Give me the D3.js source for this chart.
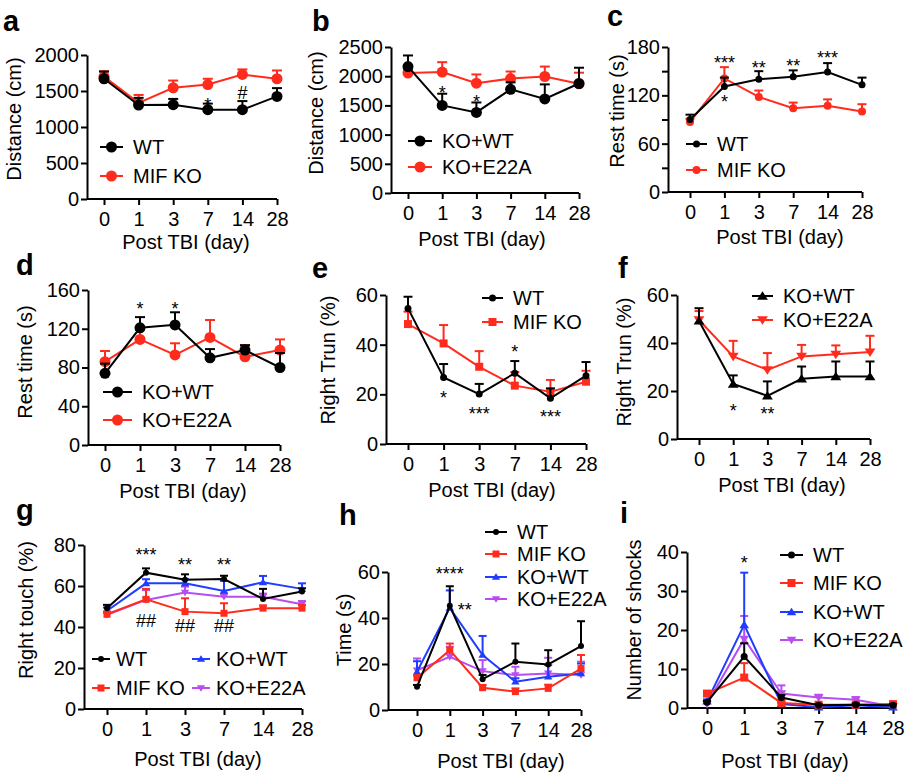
<!DOCTYPE html>
<html>
<head>
<meta charset="utf-8">
<script src="https://cdn.jsdelivr.net/npm/d3@7"></script>
<style>
  body { margin: 0; background: #fff; }
  svg { display: block; font-family: "Liberation Sans", Arial, sans-serif; }
</style>
</head>
<body>
<svg width="915" height="778"></svg>
<script>
// дни после травмы (общая ось ОХ для всех панелей)
const days = ["0", "1", "3", "7", "14", "28"];

// a - Distance
const aWT = [1670, 1305, 1310, 1240, 1240, 1425];
const aWTerr = [100, 100, 80, 85, 120, 115];
const aKO = [1700, 1335, 1545, 1590, 1730, 1670];
const aKOerr = [75, 110, 100, 80, 70, 115];
const aTicks = [0, 500, 1000, 1500, 2000];

// b - Distance
const bWT = [2165, 1500, 1380, 1775, 1610, 1875];
const bWTerr = [190, 200, 170, 120, 250, 270];
const bE22A = [2055, 2070, 1880, 1960, 1995, 1870];
const bE22Aerr = [60, 170, 150, 120, 170, 190];
const bTicks = [0, 500, 1000, 1500, 2000, 2500];

// c - Rest time
const cWT = [90, 131, 140, 143, 149, 133];
const cWTerr = [6, 11, 10, 8, 11, 9];
const cKO = [87, 141, 118, 104, 107, 100];
const cKOerr = [4, 14, 8, 7, 8, 9];
const cTicks = [0, 30, 60, 90, 120, 150, 180];

// d - Rest time
const dWT = [74, 121, 124, 90, 98, 80];
const dWTerr = [10, 11, 13, 9, 5, 15];
const dE22A = [86, 109, 93, 111, 91, 98];
const dE22Aerr = [11, 10, 12, 18, 12, 11];
const dTicks = [0, 40, 80, 120, 160];

// e - Right Trun
const eWT = [54.6, 26.8, 20.1, 28.5, 18.4, 27.5];
const eWTerr = [4.7, 5.4, 4.1, 4.9, 4, 5.5];
const eKO = [48.3, 40.5, 31.1, 23.5, 21, 25.1];
const eKOerr = [5, 7.4, 6.3, 5.5, 4.8, 4.4];
const eTicks = [0, 20, 40, 60];

// f - Right Trun
const fWT = [49.2, 22.9, 18, 25.1, 26, 26];
const fWTerr = [5.3, 3.6, 6, 5.1, 6.3, 6.3];
const fE22A = [49.6, 34.4, 28.8, 34.4, 35.3, 36.2];
const fE22Aerr = [3.7, 6.5, 7, 4.8, 3.7, 6.8];
const fTicks = [0, 20, 40, 60];

// g - Right touch
const gWT = [49.2, 66.5, 63, 63.4, 53.7, 57.3];
const gWTerr = [1.6, 2.1, 2.7, 1.6, 4.9, 1.6];
const gKO = [46.2, 53.5, 47.5, 46.7, 49.2, 49.2];
const gKOerr = [1.3, 5.1, 6.5, 4.9, 1.3, 1.5];
const gKW = [47.9, 61.3, 61.3, 57.6, 61.8, 58.6];
const gKWerr = [1.6, 2, 2, 4.9, 3.1, 2.7];
const gE22A = [45.9, 53.2, 56.8, 54.8, 54.8, 51.1];
const gE22Aerr = [1.5, 4.8, 2.9, 1.5, 1.5, 1.6];
const gTicks = [0, 20, 40, 60, 80];

// h - Time
const hWT = [10.1, 45.3, 13.4, 21, 19.8, 27.8];
const hWTerr = [0.8, 8.5, 1.8, 7.9, 6.2, 10.8];
const hKO = [14, 26, 9.7, 8, 9.4, 18];
const hKOerr = [1, 2.9, 1.2, 1.4, 1.6, 5.9];
const hKW = [16.6, 44.4, 23.9, 12.3, 14.5, 15.9];
const hKWerr = [4.6, 7.6, 8.3, 1.5, 5, 4.3];
const hE22A = [17.3, 23.1, 16.9, 15.2, 15.9, 15.2];
const hE22Aerr = [5.1, 4.4, 4.8, 3.6, 6.8, 5.8];
const hTicks = [0, 20, 40, 60];

// i - Number of shocks
const iWT = [1.5, 13.2, 2.7, 0.7, 0.85, 0.7];
const iWTerr = [0.3, 3.4, 0.6, 0.3, 0.3, 0.3];
const iKO = [3.7, 7.8, 1.3, 0.85, 0.85, 1];
const iKOerr = [0.6, 3.7, 0.3, 0.3, 0.3, 0.3];
const iKW = [1.7, 21.3, 1, 0.2, 0.7, 0.2];
const iKWerr = [0.5, 13.4, 0.3, 0.2, 0.3, 0.2];
const iE22A = [1, 17.7, 3.7, 2.7, 2.1, 0.4];
const iE22Aerr = [0.4, 5.9, 2.1, 0.7, 0.7, 0.3];
const iTicks = [0, 10, 20, 30, 40];

// значимость (день, значение по ОY в центре знака, текст)
const aMarks = [["7", 1384, "*"], ["14", 1477, "#"]];
const bMarks = [["1", 1807, "*"], ["3", 1648, "*"]];
const cMarks = [["1", 167, "***"], ["3", 160.6, "**"], ["7", 162.7, "**"], ["14", 173, "***"], ["1", 118.2, "*"]];
const dMarks = [["1", 146, "*"], ["3", 146, "*"]];
const eMarks = [["1", 20.7, "*"], ["3", 14.1, "***"], ["7", 39.2, "*"], ["14", 13, "***"]];
const fMarks = [["1", 14, "*"], ["3", 12.5, "**"]];
const gMarks = [["1", 77.6, "***"], ["3", 73, "**"], ["7", 73, "**"], ["1", 43, "##"], ["3", 40.6, "##"], ["7", 40.6, "##"]];
const hMarks = [["1", 61.4, "****"], ["1", 45.8, "**", 15]];
const iMarks = [["1", 38.5, "*"]];

const BLACK = "#000000";
const RED = "#ff2b1c";
const BLUE = "#1f3cff";
const PURPLE = "#b84df0";

const panels = [
  { letter: "a", lx: 3, ly: 31, left: 87, top: 55, bottom: 199, x0: 104, x1: 277,
    ticks: aTicks, title: "Distance (cm)", tx: 14, ty: 119, xtx: 186, xty: 249, cap: 10,
    series: [
      { name: "WT", v: aWT, e: aWTerr, c: BLACK, shape: "circle", s: 5.5 },
      { name: "MIF KO", v: aKO, e: aKOerr, c: RED, shape: "circle", s: 5.5 }],
    legend: { x: 100, len: 23, ys: [147, 176] }, marks: aMarks },
  { letter: "b", lx: 312, ly: 31, left: 391, top: 47, bottom: 193, x0: 408, x1: 579,
    ticks: bTicks, title: "Distance (cm)", tx: 316, ty: 113, xtx: 482, xty: 246, cap: 10,
    series: [
      { name: "KO+WT", v: bWT, e: bWTerr, c: BLACK, shape: "circle", s: 5.5 },
      { name: "KO+E22A", v: bE22A, e: bE22Aerr, c: RED, shape: "circle", s: 5.5 }],
    legend: { x: 408, len: 24, ys: [141, 167] }, marks: bMarks },
  { letter: "c", lx: 607, ly: 26, left: 668, top: 47, bottom: 192, x0: 690, x1: 862,
    ticks: cTicks, labelStep: 60, title: "Rest time (s)", tx: 617, ty: 111, xtx: 780, xty: 244, cap: 9,
    series: [
      { name: "WT", v: cWT, e: cWTerr, c: BLACK, shape: "circle", s: 3.5 },
      { name: "MIF KO", v: cKO, e: cKOerr, c: RED, shape: "circle", s: 4 }],
    legend: { x: 686, len: 21, ys: [144, 170] }, marks: cMarks },
  { letter: "d", lx: 16, ly: 275, left: 88, top: 290, bottom: 445, x0: 105, x1: 280,
    ticks: dTicks, title: "Rest time (s)", tx: 25, ty: 362, xtx: 183, xty: 498, cap: 10,
    series: [
      { name: "KO+WT", v: dWT, e: dWTerr, c: BLACK, shape: "circle", s: 5.5 },
      { name: "KO+E22A", v: dE22A, e: dE22Aerr, c: RED, shape: "circle", s: 5.5 }],
    legend: { x: 103, len: 29, ys: [392, 420] }, marks: dMarks },
  { letter: "e", lx: 312, ly: 278, left: 386, top: 295, bottom: 444, x0: 408, x1: 586,
    ticks: eTicks, title: "Right Trun (%)", tx: 328, ty: 360, xtx: 492, xty: 497, cap: 9,
    series: [
      { name: "WT", v: eWT, e: eWTerr, c: BLACK, shape: "circle", s: 3.5 },
      { name: "MIF KO", v: eKO, e: eKOerr, c: RED, shape: "square", s: 8 }],
    legend: { x: 482, len: 21, ys: [298, 322] }, marks: eMarks },
  { letter: "f", lx: 618, ly: 278, left: 677, top: 295, bottom: 439, x0: 699, x1: 870,
    ticks: fTicks, title: "Right Trun (%)", tx: 624, ty: 362, xtx: 782, xty: 492, cap: 9,
    series: [
      { name: "KO+WT", v: fWT, e: fWTerr, c: BLACK, shape: "up", s: 9 },
      { name: "KO+E22A", v: fE22A, e: fE22Aerr, c: RED, shape: "down", s: 9 }],
    legend: { x: 752, len: 21, ys: [296, 320] }, marks: fMarks },
  { letter: "g", lx: 16, ly: 520, left: 84, top: 545, bottom: 709, x0: 107, x1: 302,
    ticks: gTicks, title: "Right touch (%)", tx: 26, ty: 610, xtx: 198, xty: 766, cap: 8,
    series: [
      { name: "WT", v: gWT, e: gWTerr, c: BLACK, shape: "circle", s: 3 },
      { name: "MIF KO", v: gKO, e: gKOerr, c: RED, shape: "square", s: 7 },
      { name: "KO+WT", v: gKW, e: gKWerr, c: BLUE, shape: "up", s: 7 },
      { name: "KO+E22A", v: gE22A, e: gE22Aerr, c: PURPLE, shape: "down", s: 7 }],
    legend: { xs: [92, 92, 192, 192], len: 18, gap: 6, ys: [659, 688, 659, 688] }, marks: gMarks },
  { letter: "h", lx: 339, ly: 525, left: 388, top: 572, bottom: 710, x0: 417, x1: 581,
    ticks: hTicks, title: "Time (s)", tx: 344, ty: 630, xtx: 501, xty: 768, cap: 8,
    series: [
      { name: "WT", v: hWT, e: hWTerr, c: BLACK, shape: "circle", s: 3 },
      { name: "MIF KO", v: hKO, e: hKOerr, c: RED, shape: "square", s: 7 },
      { name: "KO+WT", v: hKW, e: hKWerr, c: BLUE, shape: "up", s: 7 },
      { name: "KO+E22A", v: hE22A, e: hE22Aerr, c: PURPLE, shape: "down", s: 7 }],
    legend: { x: 485, len: 22, ys: [532, 554, 577, 599] }, marks: hMarks },
  { letter: "i", lx: 620, ly: 523, left: 687, top: 552, bottom: 708, x0: 707, x1: 893,
    ticks: iTicks, title: "Number of shocks", tx: 634, ty: 620, xtx: 785, xty: 768, cap: 8,
    series: [
      { name: "WT", v: iWT, e: iWTerr, c: BLACK, shape: "circle", s: 3.5 },
      { name: "MIF KO", v: iKO, e: iKOerr, c: RED, shape: "square", s: 8 },
      { name: "KO+WT", v: iKW, e: iKWerr, c: BLUE, shape: "up", s: 8 },
      { name: "KO+E22A", v: iE22A, e: iE22Aerr, c: PURPLE, shape: "down", s: 8 }],
    legend: { x: 780, len: 23, ys: [555, 583, 612, 640] }, marks: iMarks }
];

const svg = d3.select("svg");

// маркер точки в (x, y)
function drawMarker(g, x, y, ser) {
  if (ser.shape === "circle") {
    g.append("circle").attr("cx", x).attr("cy", y).attr("r", ser.s).attr("fill", ser.c);
  } else if (ser.shape === "square") {
    g.append("rect").attr("x", x - ser.s / 2).attr("y", y - ser.s / 2)
      .attr("width", ser.s).attr("height", ser.s).attr("fill", ser.c);
  } else {
    const h = ser.s * 0.9;
    const w = ser.s * 0.6;
    const pts = ser.shape === "up"
      ? [[x, y - h * 0.6], [x + w, y + h * 0.45], [x - w, y + h * 0.45]]
      : [[x, y + h * 0.6], [x + w, y - h * 0.45], [x - w, y - h * 0.45]];
    g.append("path").attr("d", d3.line()(pts) + "Z").attr("fill", ser.c);
  }
}

function drawPanel(p) {
  const g = svg.append("g");
  const yMax = p.ticks[p.ticks.length - 1];

  const scX = d3.scalePoint().domain(days).range([p.x0, p.x1]);
  const scY = d3.scaleLinear().domain([0, yMax]).range([p.bottom, p.top]);

  // оси
  const axisY = d3.axisLeft(scY).tickValues(p.ticks).tickSize(6).tickSizeOuter(0).tickPadding(2)
    .tickFormat(d => (p.labelStep && d % p.labelStep !== 0) ? "" : d);
  const gy = g.append("g").attr("transform", `translate(${p.left},0)`).call(axisY);

  const axisX = d3.axisBottom(scX).tickSize(6).tickPadding(7);
  const gx = g.append("g").attr("transform", `translate(0,${p.bottom})`).call(axisX);
  gx.select(".domain").remove();
  gx.append("line").attr("x1", p.left).attr("x2", p.x1).attr("stroke", "#000").attr("stroke-width", 2);

  [gy, gx].forEach(ax => {
    ax.selectAll("line, path").attr("stroke", "#000").attr("stroke-width", 2);
    ax.selectAll("text").attr("fill", "#000").style("font-size", "20px")
      .style("font-family", '"Liberation Sans", Arial, sans-serif');
  });

  // подписи осей
  g.append("text").attr("transform", `translate(${p.tx},${p.ty}) rotate(-90)`)
    .attr("text-anchor", "middle").attr("dy", "0.35em").style("font-size", "20px").text(p.title);
  g.append("text").attr("x", p.xtx).attr("y", p.xty).attr("text-anchor", "middle")
    .style("font-size", "20px").text("Post TBI (day)");

  // буква панели
  g.append("text").attr("x", p.lx).attr("y", p.ly).style("font-size", "29px")
    .style("font-weight", "bold").text(p.letter);

  // серии: первая серия рисуется поверх остальных
  const line = d3.line().x((d, i) => scX(days[i])).y(d => scY(d));
  p.series.slice().reverse().forEach(ser => {
    const sg = g.append("g");
    ser.v.forEach((v, i) => {
      const x = scX(days[i]);
      const yTop = scY(v + ser.e[i]);
      sg.append("line").attr("x1", x).attr("x2", x).attr("y1", scY(v)).attr("y2", yTop)
        .attr("stroke", ser.c).attr("stroke-width", 2);
      sg.append("line").attr("x1", x - p.cap / 2).attr("x2", x + p.cap / 2)
        .attr("y1", yTop).attr("y2", yTop).attr("stroke", ser.c).attr("stroke-width", 2);
    });
    sg.append("path").datum(ser.v).attr("d", line).attr("fill", "none")
      .attr("stroke", ser.c).attr("stroke-width", 2);
    ser.v.forEach((v, i) => drawMarker(sg, scX(days[i]), scY(v), ser));
  });

  // легенда
  const L = p.legend;
  p.series.forEach((ser, k) => {
    const lx = L.xs ? L.xs[k] : L.x;
    const ly = L.ys[k];
    const lg = g.append("g");
    lg.append("line").attr("x1", lx).attr("x2", lx + L.len).attr("y1", ly).attr("y2", ly)
      .attr("stroke", ser.c).attr("stroke-width", 2);
    drawMarker(lg, lx + L.len / 2, ly, ser);
    lg.append("text").attr("x", lx + L.len + (L.gap || 10)).attr("y", ly).attr("dy", "0.36em")
      .style("font-size", "20px").text(ser.name);
  });

  // значимость
  p.marks.forEach(m => {
    const isHash = m[2].includes("#");
    g.append("text").attr("x", scX(m[0]) + (m[3] || 0)).attr("y", scY(m[1]))
      .attr("dy", isHash ? "0.36em" : "0.62em").attr("text-anchor", "middle")
      .style("font-size", "18px").text(m[2]);
  });
}

panels.forEach(drawPanel);
</script>
</body>
</html>
